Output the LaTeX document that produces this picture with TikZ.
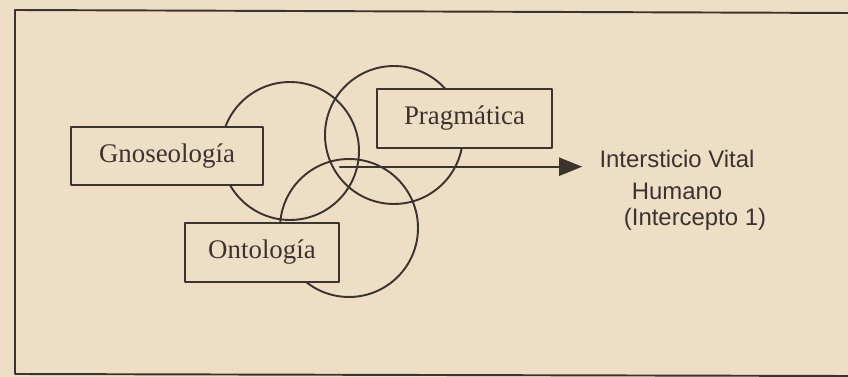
\documentclass[tikz,border=0pt]{standalone}
\usepackage{fontspec}
\setmainfont{Liberation Serif}
\newfontfamily\sansf{Liberation Sans}
\usepackage{tikz}
\usetikzlibrary{arrows.meta}
\definecolor{papel}{HTML}{EEDEC6}
\definecolor{tinta}{HTML}{3B332D}
\tikzset{
  every picture/.style={line join=round, line cap=round, >=Stealth},
  aro/.style={draw=tinta, line width=1.1pt},
  caja/.style={draw=tinta, fill=papel, line width=1.2pt, inner sep=0pt,
    text=tinta, font=\fontsize{15.3}{18}\selectfont},
  nota/.style={text=tinta, inner sep=0pt, anchor=base,
    font=\sansf\fontsize{13.6}{16}\selectfont},
}

\begin{document}
\begin{tikzpicture}[x=0.02cm, y=-0.02cm]
\fill[papel] (0,0) rectangle (848,377);
\useasboundingbox (0,0) rectangle (848,377);
\draw[tinta, line width=1.1pt] (848,13) -- (15,10) -- (15,374) -- (848,376);
% circles
\draw[aro] (290,151) circle (1.38cm);
\draw[aro] (394,135) circle (1.38cm);
\draw[aro] (349,228) circle (1.38cm);
% boxes
\node[caja, minimum width=3.84cm, minimum height=1.16cm] (gnoseo) at (167,156) {Gnoseología};
\node[caja, minimum width=3.5cm, minimum height=1.18cm] (pragma) at (464.5,118.5) {Pragmática};
\node[caja, minimum width=3.08cm, minimum height=1.18cm] (onto) at (262,252.5) {Ontología};
% result
\node[nota] (vital) at (677,168) {Intersticio Vital};
\node[nota] (humano) at (677,200) {Humano};
\node[nota] (intercepto) at (695,226) {(Intercepto 1)};
\coordinate (centro) at (340,166.7);
\draw[tinta, line width=1.2pt, -{Triangle[length=0.46cm, width=0.36cm]}]
  (centro) -- ([xshift=-0.34cm]centro -| vital.west);
\end{tikzpicture}
\end{document}
